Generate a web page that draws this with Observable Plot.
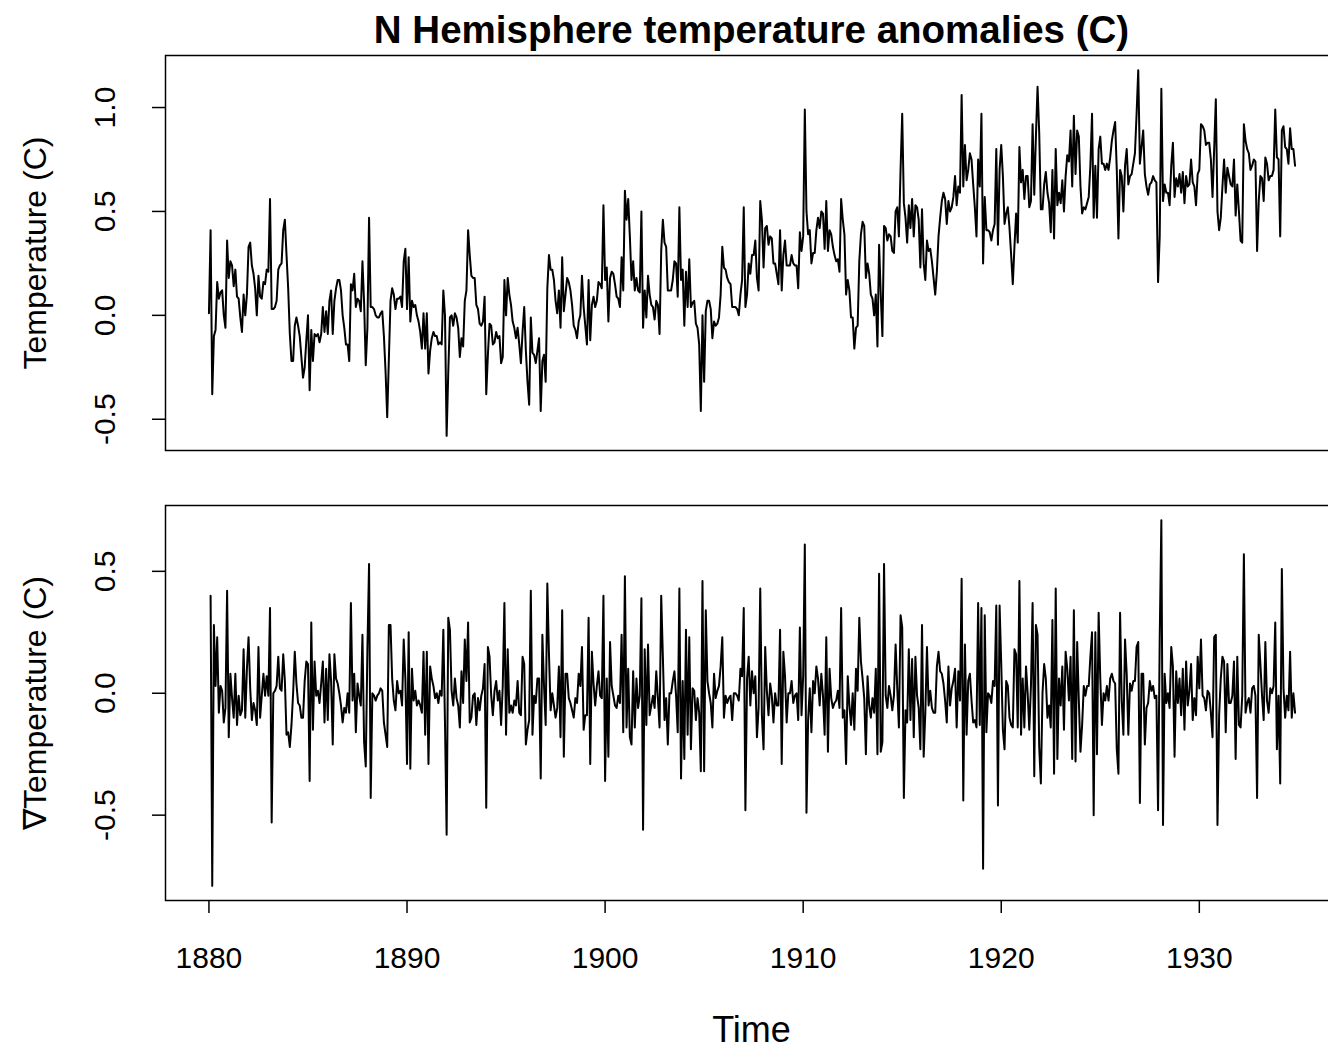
<!DOCTYPE html>
<html><head><meta charset="utf-8">
<script src="https://cdn.jsdelivr.net/npm/d3@7"></script>
<script src="https://cdn.jsdelivr.net/npm/@observablehq/plot@0.6"></script>
<style>
body{margin:0;background:#fff;overflow:hidden;font-family:"Liberation Sans",Arial,Helvetica,sans-serif;}
#wrap{position:relative;width:1328px;height:1050px;overflow:hidden;background:#fff;}
.ttl{position:absolute;left:165px;width:1173px;text-align:center;white-space:nowrap;color:#000;}
</style></head><body><div id="wrap"></div>
<script>
// ---- data (monthly) ----
const startYear = 1880;
const anomaly = [
0.01,0.41,-0.38,-0.10,-0.07,0.16,0.08,0.11,0.12,0.00,-0.06,0.36,
0.18,0.26,0.24,0.14,0.22,0.09,0.08,-0.01,-0.08,0.10,0.00,0.10,
0.33,0.35,0.24,0.20,0.13,0.00,0.19,0.09,0.08,0.16,0.15,0.22,
0.21,0.56,0.03,0.03,0.04,0.07,0.22,0.24,0.25,0.41,0.46,0.29,
0.13,-0.09,-0.22,-0.22,-0.05,-0.01,-0.05,-0.10,-0.20,-0.30,-0.25,-0.12,
0.00,-0.36,-0.07,-0.22,-0.09,-0.10,-0.09,-0.13,-0.09,0.04,-0.08,0.02,
-0.09,0.07,0.12,-0.09,0.07,0.13,0.17,0.17,0.12,0.00,-0.06,-0.14,
-0.14,-0.22,0.15,0.12,0.20,0.04,0.08,0.07,0.02,0.26,0.06,-0.24,
-0.06,0.47,0.04,0.04,0.03,0.00,-0.01,-0.01,0.01,0.02,-0.10,-0.27,
-0.49,-0.21,0.07,0.13,0.10,0.03,0.08,0.08,0.09,0.04,0.26,0.32,
0.03,0.28,-0.03,0.07,0.04,0.05,0.00,-0.03,-0.08,-0.16,0.01,-0.16,
0.01,-0.28,-0.17,-0.11,-0.08,-0.10,-0.10,-0.14,-0.13,-0.14,0.12,0.00,
-0.58,-0.27,-0.01,0.00,-0.05,0.01,-0.01,-0.06,-0.20,-0.11,-0.15,0.07,
0.12,0.41,0.29,0.19,0.18,0.18,0.05,0.03,-0.04,-0.05,-0.03,0.09,
-0.38,-0.19,-0.04,-0.05,-0.14,-0.13,-0.08,-0.11,-0.10,-0.23,-0.20,0.17,
0.00,0.18,0.10,0.05,-0.03,-0.06,-0.11,-0.06,-0.14,-0.23,-0.08,0.04,
-0.17,-0.32,-0.43,-0.01,-0.18,-0.19,-0.23,-0.17,-0.11,-0.46,-0.22,-0.19,
-0.32,0.13,0.29,0.22,0.22,0.17,0.07,0.01,0.12,-0.06,0.28,0.02,
0.10,0.18,0.16,0.12,0.05,-0.05,-0.07,-0.11,-0.03,0.00,0.19,0.04,
-0.05,-0.14,0.17,-0.12,0.05,0.09,0.04,0.07,0.16,0.15,0.13,0.53,
0.17,0.23,-0.03,0.18,0.21,0.20,0.15,0.09,0.08,0.04,0.28,0.12,
0.60,0.46,0.56,0.38,0.17,0.26,0.12,0.18,0.12,0.11,0.50,-0.06,
0.12,-0.01,0.19,0.10,0.05,0.04,-0.02,0.07,0.05,-0.09,0.31,0.46,
0.35,0.33,0.12,0.12,0.12,0.17,0.26,0.25,0.09,0.52,0.17,0.22,
-0.05,0.21,0.04,0.27,0.04,0.06,0.07,-0.04,-0.06,-0.14,-0.46,0.00,
-0.32,0.02,0.07,0.07,0.03,-0.11,-0.03,-0.05,-0.04,-0.01,0.10,0.33,
0.23,0.22,0.18,0.16,0.15,0.04,0.04,0.04,0.03,0.00,0.10,0.17,
0.52,0.04,0.10,0.25,0.20,0.29,0.29,0.36,0.18,0.12,0.55,0.46,
0.23,0.42,0.43,0.34,0.38,0.37,0.25,0.25,0.20,0.15,0.41,0.12,
0.29,0.36,0.24,0.24,0.24,0.29,0.25,0.24,0.24,0.13,0.40,0.31,
0.38,0.99,0.50,0.39,0.41,0.25,0.30,0.30,0.41,0.47,0.42,0.50,
0.49,0.32,0.55,0.31,0.41,0.39,0.33,0.29,0.26,0.27,0.21,0.56,
0.46,0.39,0.10,0.17,0.12,-0.01,-0.01,-0.16,-0.06,-0.05,0.26,0.39,
0.45,0.43,0.18,0.25,0.20,0.10,0.08,0.00,0.10,-0.15,0.34,0.10,
-0.10,0.43,0.42,0.36,0.39,0.38,0.31,0.30,0.50,0.52,0.38,0.70,
0.97,0.54,0.47,0.35,0.53,0.42,0.56,0.38,0.53,0.52,0.46,0.23,
0.51,0.25,0.17,0.36,0.31,0.32,0.26,0.18,0.10,0.21,0.38,0.47,
0.55,0.59,0.56,0.44,0.55,0.50,0.52,0.57,0.67,0.53,0.62,0.59,
1.06,0.62,0.82,0.65,0.70,0.78,0.75,0.63,0.52,0.38,0.75,0.62,
0.97,0.25,0.57,0.41,0.41,0.40,0.36,0.41,0.44,0.80,0.34,0.70,
0.82,0.67,0.44,0.49,0.52,0.42,0.29,0.15,0.33,0.49,0.35,0.81,
0.64,0.70,0.56,0.67,0.67,0.52,0.55,0.92,0.58,0.86,1.10,0.88,
0.51,0.51,0.63,0.69,0.59,0.54,0.40,0.70,0.37,0.80,0.53,0.59,
0.54,0.65,0.50,0.67,0.77,0.74,0.89,0.62,0.96,0.68,0.89,0.86,
0.62,0.49,0.52,0.51,0.54,0.57,0.72,0.97,0.47,0.72,0.47,0.80,
0.86,0.73,0.73,0.70,0.73,0.70,0.76,0.84,0.89,0.93,0.70,0.37,
0.70,0.67,0.50,0.72,0.80,0.63,0.67,0.68,0.73,0.78,0.97,1.18,
0.73,0.81,0.89,0.68,0.62,0.58,0.63,0.64,0.67,0.65,0.64,0.16,
0.38,1.09,0.55,0.63,0.59,0.59,0.53,0.72,0.83,0.57,0.66,0.62,
0.68,0.59,0.69,0.54,0.67,0.62,0.63,0.75,0.64,0.62,0.53,0.68,
0.70,0.92,0.91,0.89,0.82,0.83,0.83,0.75,0.57,0.80,1.04,0.50,
0.41,0.47,0.62,0.75,0.59,0.71,0.67,0.63,0.62,0.75,0.48,0.63,
0.50,0.36,0.35,0.92,0.84,0.80,0.78,0.70,0.72,0.75,0.74,0.31,
0.55,0.67,0.66,0.55,0.76,0.73,0.65,0.67,0.67,0.70,0.99,0.76,
0.75,0.38,0.89,0.91,0.81,0.80,0.73,0.90,0.80,0.80,0.72
];
const xTicks = [1880, 1890, 1900, 1910, 1920, 1930];
const yTicksTop = [-0.5, 0, 0.5, 1.0];
const yTickLabelsTop = ["-0.5", "0.0", "0.5", "1.0"];
const yTicksBottom = [-0.5, 0, 0.5];
const yTickLabelsBottom = ["-0.5", "0.0", "0.5"];
const titleText = "N Hemisphere temperature anomalies (C)";
const yLabelTop = "Temperature (C)";
const yLabelBottom = "\u2207Temperature (C)";
const xLabel = "Time";

// ---- derived tables ----
const series = anomaly.map((v, i) => ({t: startYear + i / 12, v}));
const diffs = anomaly.slice(1).map((v, i) => ({t: startYear + (i + 1) / 12, v: v - anomaly[i]}));

const FONT = "'Liberation Sans', Arial, Helvetica, sans-serif";
const t0 = series[0].t, t1 = series[series.length - 1].t;
const xDomain = [t0 - 0.04 * (t1 - t0), t1 + 0.04 * (t1 - t0)];
const W = 1338; // right border of the box falls just outside the picture

function panel(data, yTicks, yLabels, yLabel, showX, height, marginBottom) {
  const ext = d3.extent(data, d => d.v);
  const r = ext[1] - ext[0];
  const marks = [
    Plot.frame({stroke: "#000", strokeWidth: 1.5}),
    Plot.axisY(yTicks, {tickSize: 13, stroke: "#000", strokeWidth: 1.5, tickFormat: () => "", label: null}),
    Plot.text(yTicks, {y: d => d, frameAnchor: "left", dx: -60, rotate: -90, textAnchor: "middle",
      text: d => yLabels[yTicks.indexOf(d)], fontSize: 30, fill: "#000", lineAnchor: "middle"}),
    Plot.text([yLabel], {frameAnchor: "left", dx: -130, rotate: -90, textAnchor: "middle",
      fontSize: 32, fill: "#000", lineAnchor: "middle"}),
    Plot.line(data, {x: "t", y: "v", stroke: "#000", strokeWidth: 2})
  ];
  if (showX) {
    marks.push(Plot.axisX(xTicks, {tickSize: 13, stroke: "#000", strokeWidth: 1.5, tickFormat: () => "", label: null}));
    marks.push(Plot.text(xTicks, {x: d => d, frameAnchor: "bottom", dy: 58, text: d => String(d),
      fontSize: 30, fill: "#000", lineAnchor: "middle", textAnchor: "middle"}));
  }
  return Plot.plot({
    width: W, height, marginLeft: 165, marginRight: 0, marginTop: 10, marginBottom,
    x: {domain: xDomain, axis: null},
    y: {domain: [ext[0] - 0.04 * r, ext[1] + 0.04 * r], axis: null},
    style: {fontFamily: FONT, color: "#000", background: "transparent", maxWidth: "none", overflow: "visible"},
    marks
  });
}

const wrap = document.getElementById("wrap");

const titleDiv = document.createElement("div");
titleDiv.className = "ttl";
titleDiv.style.top = "7px";
titleDiv.style.fontSize = "38.5px";
titleDiv.style.fontWeight = "bold";
titleDiv.style.lineHeight = "46px";
titleDiv.textContent = titleText;
wrap.appendChild(titleDiv);

const topPanel = panel(series, yTicksTop, yTickLabelsTop, yLabelTop, false, 415, 10);
topPanel.style.position = "absolute"; topPanel.style.left = "0px"; topPanel.style.top = "45px";
wrap.appendChild(topPanel);

const botPanel = panel(diffs, yTicksBottom, yTickLabelsBottom, yLabelBottom, true, 520, 115);
botPanel.style.position = "absolute"; botPanel.style.left = "0px"; botPanel.style.top = "495px";
wrap.appendChild(botPanel);

const xLabelDiv = document.createElement("div");
xLabelDiv.className = "ttl";
xLabelDiv.style.top = "1008px";
xLabelDiv.style.fontSize = "36px";
xLabelDiv.style.lineHeight = "44px";
xLabelDiv.textContent = xLabel;
wrap.appendChild(xLabelDiv);
</script>
</body></html>
